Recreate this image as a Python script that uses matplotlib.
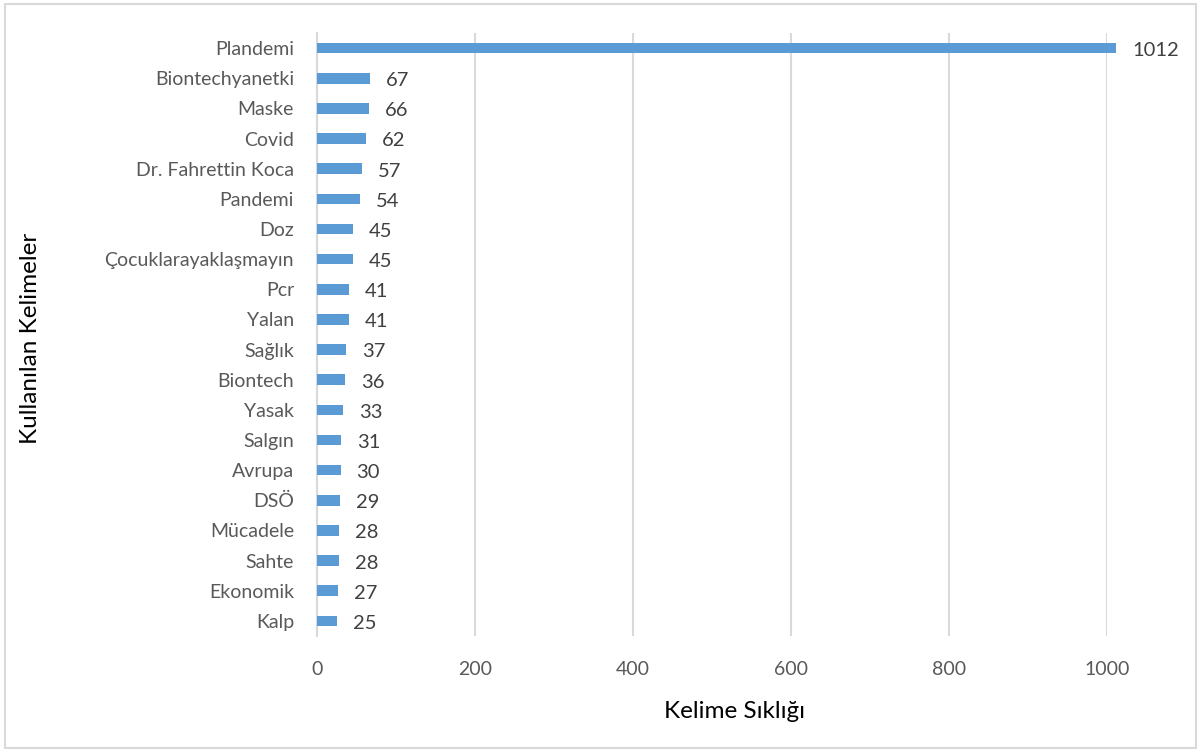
import matplotlib.pyplot as plt
from matplotlib.patches import Rectangle

words = ["Plandemi", "Biontechyanetki", "Maske", "Covid", "Dr. Fahrettin Koca",
         "Pandemi", "Doz", "Çocuklarayaklaşmayın", "Pcr", "Yalan", "Sağlık",
         "Biontech", "Yasak", "Salgın", "Avrupa", "DSÖ", "Mücadele", "Sahte",
         "Ekonomik", "Kalp"]
counts = [1012, 67, 66, 62, 57, 54, 45, 45, 41, 41, 37, 36, 33, 31, 30, 29,
          28, 28, 27, 25]
xticks = [0, 200, 400, 600, 800, 1000]

plt.rcParams['font.family'] = ['Lato', 'DejaVu Sans']

fig = plt.figure(figsize=(11.99, 7.51), dpi=100)
ax = fig.add_axes([317 / 1199, 115 / 751, 790 / 1199, 603 / 751])

pos = list(range(len(words)))
ax.barh(pos, counts, height=0.35, color='#5B9BD5', clip_on=False, zorder=3)
for p, v in zip(pos, counts):
    ax.text(v + 20, p + 0.08, str(v), va='center', ha='left', fontsize=14.5,
            color='#404040')

ax.set_ylim(len(words) - 0.5, -0.5)
ax.set_xlim(0, 1000)
ax.set_yticks(pos)
ax.set_yticklabels(words, fontsize=14, color='#595959')
ax.set_xticks(xticks)
ax.set_xticklabels([str(t) for t in xticks], fontsize=14, color='#595959')
ax.tick_params(length=0)
ax.tick_params(axis='x', pad=18)
ax.tick_params(axis='y', pad=16.5)

ax.grid(axis='x', color='#D9D9D9', linewidth=1.5, zorder=0)
for s in ['top', 'right', 'bottom']:
    ax.spines[s].set_visible(False)
ax.spines['left'].set_color('#D9D9D9')
ax.spines['left'].set_linewidth(1.5)

fig.text(734 / 1199, 1 - 712 / 751, "Kelime Sıklığı", ha='center', va='center',
         fontsize=17.5, color='#000000')
fig.text(31 / 1199, 1 - 338 / 751, "Kullanılan Kelimeler", ha='center',
         va='center', rotation=90, fontsize=17.5, color='#000000')

fig.patches.append(Rectangle((5 / 1199, 3 / 751), 1191 / 1199, 744 / 751,
                             transform=fig.transFigure, fill=False,
                             edgecolor='#D9D9D9', linewidth=1.5))

fig.savefig("out.png", dpi=100)
